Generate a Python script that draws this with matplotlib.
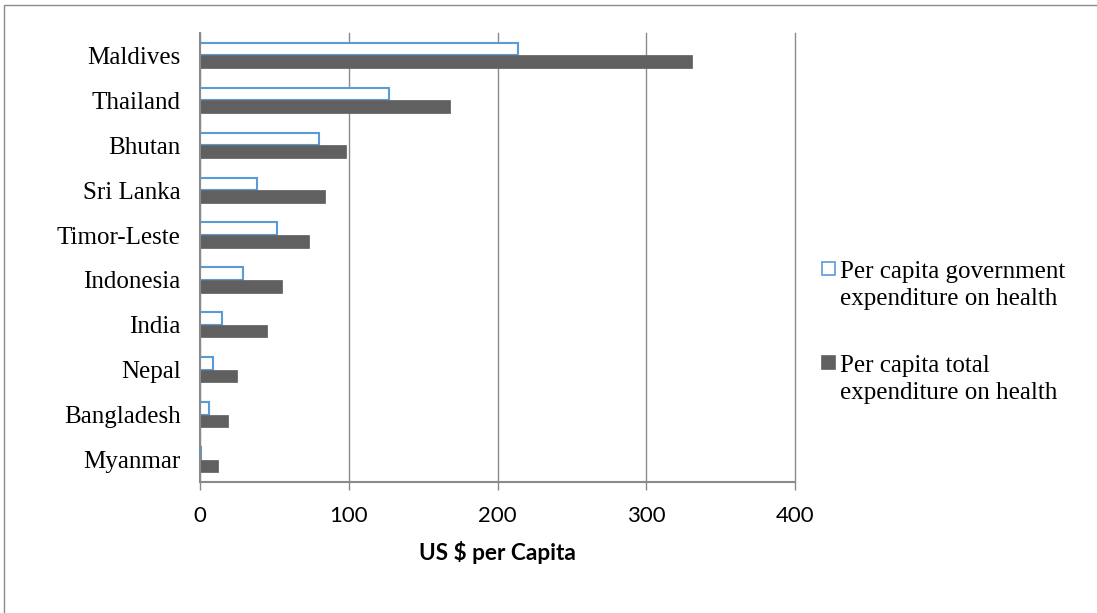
import matplotlib
matplotlib.use("Agg")
import matplotlib.pyplot as plt
from matplotlib.patches import Rectangle
import numpy as np

countries = ["Myanmar", "Bangladesh", "Nepal", "India", "Indonesia",
             "Timor-Leste", "Sri Lanka", "Bhutan", "Thailand", "Maldives"]
gov_exp = [1, 6, 9, 15, 29, 52, 38, 80, 127, 214]
total_exp = [12, 19, 25, 45, 55, 73, 84, 98, 168, 331]
x_ticks = [0, 100, 200, 300, 400]
gov_label = "Per capita government\nexpenditure on health"
total_label = "Per capita total\nexpenditure on health"
x_label = "US $ per Capita"

W, H = 1097, 613
fig = plt.figure(figsize=(W / 100, H / 100), dpi=100)
fig.patch.set_facecolor("white")

# outer chart border
fig.add_artist(Rectangle((4 / W, -0.1), 1.2, (H - 5) / H + 0.1, transform=fig.transFigure,
                         fill=False, edgecolor="#8a8a8a", linewidth=1.0))

left, right, top, bottom = 200, 795, 33, 482
ax = fig.add_axes([left / W, (H - bottom) / H, (right - left) / W, (bottom - top) / H])

y = np.arange(len(countries))
bh = 0.28
ax.barh(y + bh / 2, gov_exp, height=bh, facecolor="white", edgecolor="#5B9BD5",
        linewidth=1.5, zorder=3)
ax.barh(y - bh / 2, total_exp, height=bh, facecolor="#606060", edgecolor="#6a6a6a",
        linewidth=0.6, zorder=3)

ax.set_xlim(0, 400)
ax.set_ylim(-0.5, len(countries) - 0.5)
ax.set_xticks(x_ticks)
ax.set_xticklabels([str(t) for t in x_ticks], fontfamily="Lato", fontsize=16)
ax.set_yticks(y)
ax.set_yticklabels(countries, fontfamily="Liberation Serif", fontsize=18)
ax.tick_params(axis="y", length=0, pad=14)
ax.tick_params(axis="x", length=6, width=1.0, color="#8a8a8a", pad=11)
ax.xaxis.grid(True, color="#8a8a8a", linewidth=1.0, zorder=0)
for gl in ax.get_xgridlines():
    gl.set_clip_on(False)
ax.set_axisbelow(True)
for s in ["top", "right"]:
    ax.spines[s].set_visible(False)
for s in ["left", "bottom"]:
    ax.spines[s].set_color("#8a8a8a")
    ax.spines[s].set_linewidth(1.5)
ax.spines["left"].set_zorder(4)

fig.text((left + right) / 2 / W, 1 - 552 / H, x_label, ha="center", va="center",
         fontfamily="Lato", fontweight="bold", fontsize=16.3)

# legend
def leg_entry(ytop_px, label, fc, ec):
    fig.add_artist(Rectangle((822 / W, 1 - (ytop_px + 13) / H), 13 / W, 13 / H,
                             transform=fig.transFigure, facecolor=fc, edgecolor=ec,
                             linewidth=1.2))
    fig.text(840 / W, 1 - (ytop_px - 1) / H, label, ha="left", va="top",
             fontfamily="Liberation Serif", fontsize=18, linespacing=1.3)

leg_entry(262, gov_label, "white", "#5B9BD5")
leg_entry(356, total_label, "#606060", "#606060")

fig.savefig("out.png", dpi=100, facecolor="white")
